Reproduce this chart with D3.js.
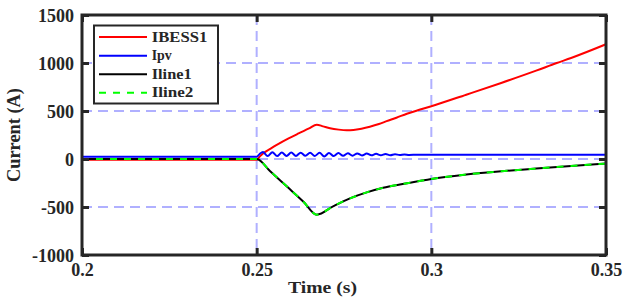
<!DOCTYPE html>
<html>
<head>
<meta charset="utf-8">
<script src="https://cdn.jsdelivr.net/npm/d3@7"></script>
<style>
  html, body { margin: 0; padding: 0; background: #fff; }
  svg { display: block; }
  text { font-family: "Liberation Serif", "Times New Roman", serif; font-weight: bold; fill: #262626; }
</style>
</head>
<body>
<svg id="chart" width="624" height="304"></svg>
<script>
// ---------- data ----------
const xTicks = [0.2, 0.25, 0.3, 0.35];
const xTickLabels = ["0.2", "0.25", "0.3", "0.35"];
const yTicks = [-1000, -500, 0, 500, 1000, 1500];
const yTickLabels = ["-1000", "-500", "0", "500", "1000", "1500"];

const seriesNames = ["IBESS1", "Ipv", "Iline1", "Iline2"];

const tBESS = [0.2, 0.25, 0.251, 0.252, 0.254, 0.256, 0.259, 0.262, 0.265, 0.2672,
               0.269, 0.271, 0.2735, 0.2758, 0.2777, 0.28, 0.2824, 0.285, 0.2872, 0.29,
               0.293, 0.2968, 0.3, 0.31, 0.32, 0.33, 0.3359, 0.34, 0.35];
const vBESS = [-8, -8, 30, 62, 108, 152, 212, 266, 318, 358,
               340, 320, 306, 300, 303, 316, 336, 364, 394, 430,
               472, 515, 550, 670, 792, 920, 1000, 1052, 1195];

const tPV = [0.2, 0.25, 0.2508,
             0.2518, 0.25315, 0.2545, 0.25585, 0.2572, 0.25855, 0.2599, 0.26125,
             0.2626, 0.26395, 0.2653, 0.26665, 0.268, 0.26935, 0.2707, 0.27205,
             0.2734, 0.27475, 0.2761, 0.27745, 0.2788, 0.28015, 0.2815, 0.28285,
             0.2842, 0.28555, 0.2869, 0.28825, 0.2896, 0.29095, 0.2923, 0.29365,
             0.296, 0.35];
const vPV = [24, 24, 50,
             72, 30, 70, 30, 68, 31, 67, 32,
             66, 33, 65, 32, 64, 26, 63, 30,
             62, 33, 60, 35, 58, 37, 56, 38,
             54, 39, 52, 40, 50, 41, 48, 42,
             45, 44];

const tLine = [0.2, 0.25, 0.2538, 0.2586, 0.2634, 0.2672,
               0.272, 0.2767, 0.2815, 0.2862, 0.291, 0.2958, 0.3,
               0.31, 0.32, 0.33, 0.34, 0.35];
const vLine1 = [0, 0, -125, -285, -445, -580,
                -490, -410, -348, -300, -265, -235, -208,
                -162, -128, -100, -73, -48];
const vLine2 = vLine1.slice();

// ---------- layout ----------
const svg = d3.select("#chart");
const L = 82, R = 606, T = 15, B = 255;
const x = d3.scaleLinear().domain([0.2, 0.35]).range([L, R]);
const y = d3.scaleLinear().domain([-1000, 1500]).range([B, T]);

const frameColor = "#262626";

// grid
const grid = svg.append("g");
grid.selectAll("line.gx").data(xTicks.slice(1, -1)).join("line")
  .attr("x1", d => x(d)).attr("x2", d => x(d)).attr("y1", T).attr("y2", B)
  .attr("stroke", "#b0b0ff").attr("stroke-width", 2).attr("stroke-dasharray", "10,6");
grid.selectAll("line.gy").data(yTicks.slice(1, -1)).join("line")
  .attr("x1", L).attr("x2", R).attr("y1", d => y(d)).attr("y2", d => y(d))
  .attr("stroke", "#b0b0ff").attr("stroke-width", 2).attr("stroke-dasharray", "10,6");

// lines
const line = d3.line().x(d => x(d[0])).y(d => y(d[1])).curve(d3.curveMonotoneX);
const zip = (a, b) => a.map((t, i) => [t, b[i]]);
const series = [
  {data: zip(tBESS, vBESS), color: "#ff0000", dash: null},
  {data: zip(tPV, vPV), color: "#0000ff", dash: null},
  {data: zip(tLine, vLine1), color: "#000000", dash: null},
  {data: zip(tLine, vLine2), color: "#00ff00", dash: "7,7"}
];
svg.append("g").selectAll("path").data(series).join("path")
  .attr("d", d => line(d.data))
  .attr("fill", "none")
  .attr("stroke", d => d.color)
  .attr("stroke-width", 2)
  .attr("stroke-dasharray", d => d.dash);

// axes (inward ticks)
const fmtX = d => xTickLabels[xTicks.indexOf(d)];
const fmtY = d => yTickLabels[yTicks.indexOf(d)];
const gL = svg.append("g").attr("transform", `translate(${L},0)`)
  .call(d3.axisLeft(y).tickValues(yTicks).tickFormat(fmtY).tickSizeInner(-7).tickSizeOuter(0).tickPadding(8));
const gB = svg.append("g").attr("transform", `translate(0,${B})`)
  .call(d3.axisBottom(x).tickValues(xTicks).tickFormat(fmtX).tickSizeInner(-7).tickSizeOuter(0).tickPadding(8));
const gT = svg.append("g").attr("transform", `translate(0,${T})`)
  .call(d3.axisTop(x).tickValues(xTicks).tickFormat("").tickSizeInner(-7).tickSizeOuter(0));
const gR = svg.append("g").attr("transform", `translate(${R},0)`)
  .call(d3.axisRight(y).tickValues(yTicks).tickFormat("").tickSizeInner(-7).tickSizeOuter(0));
[gL, gB, gT, gR].forEach(g => {
  g.select(".domain").remove();
  g.selectAll(".tick line").attr("stroke", frameColor).attr("stroke-width", 3);
  g.selectAll("text").attr("font-size", 18).attr("font-family", "'Liberation Serif', serif")
    .attr("font-weight", "bold").attr("fill", frameColor);
});
gL.selectAll("text").attr("dy", "0.38em");

// frame
svg.append("rect").attr("x", L).attr("y", T).attr("width", R - L).attr("height", B - T)
  .attr("fill", "none").attr("stroke", frameColor).attr("stroke-width", 3);

// axis titles
svg.append("text").attr("x", 322.5).attr("y", 293).attr("text-anchor", "middle")
  .attr("font-size", 17).attr("textLength", 69).attr("lengthAdjust", "spacingAndGlyphs")
  .text("Time (s)");
svg.append("text").attr("transform", "translate(20,135) rotate(-90)").attr("text-anchor", "middle")
  .attr("font-size", 18).attr("textLength", 94).attr("lengthAdjust", "spacingAndGlyphs")
  .text("Current (A)");

// legend
const lg = svg.append("g");
lg.append("rect").attr("x", 94).attr("y", 25.5).attr("width", 124).attr("height", 78)
  .attr("fill", "#fff").attr("stroke", frameColor).attr("stroke-width", 2);
const legY = [37, 55.7, 74.3, 92.7];
const legW = [55.6, 20, 40, 41.7];
series.forEach((s, i) => {
  lg.append("line").attr("x1", 99).attr("x2", 147).attr("y1", legY[i]).attr("y2", legY[i])
    .attr("stroke", s.color).attr("stroke-width", 2).attr("stroke-dasharray", s.dash);
  lg.append("text").attr("x", 151.7).attr("y", legY[i] + 4.6).attr("font-size", 14)
    .attr("textLength", legW[i]).attr("lengthAdjust", "spacingAndGlyphs")
    .attr("fill", "#000").text(seriesNames[i]);
});
</script>
</body>
</html>
